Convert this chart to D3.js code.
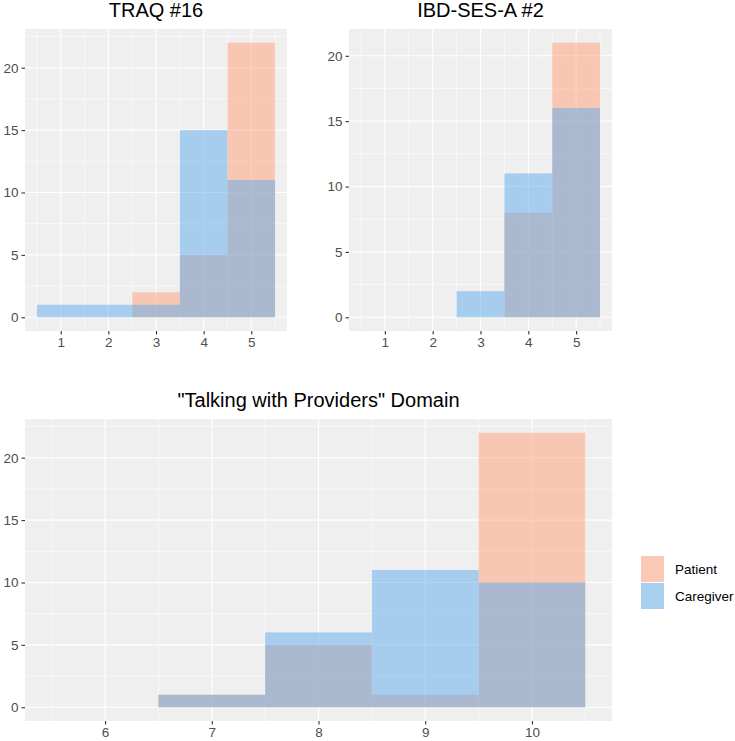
<!DOCTYPE html>
<html>
<head>
<meta charset="utf-8">
<script src="https://cdn.jsdelivr.net/npm/d3@7"></script>
<style>
  body { margin: 0; background: #fff; }
  svg text { font-family: 'Liberation Sans', Arial, sans-serif; }
</style>
</head>
<body>
<div id="chart"></div>
<script>
// Counts per response value
const traqBins = [1, 2, 3, 4, 5];
const traqPatient = [0, 0, 2, 5, 22];
const traqCaregiver = [1, 1, 1, 15, 11];

const ibdBins = [1, 2, 3, 4, 5];
const ibdPatient = [0, 0, 0, 8, 21];
const ibdCaregiver = [0, 0, 2, 11, 16];

const domainBins = [6, 7, 8, 9, 10];
const domainPatient = [0, 1, 5, 1, 22];
const domainCaregiver = [0, 1, 6, 11, 10];

const groups = ['Patient', 'Caregiver'];
const yTicks = [0, 5, 10, 15, 20];

const width = 735;
const height = 741;

const colors = {
  Patient: '#FF9F78',
  Caregiver: '#5EAAEE',
};
const fillAlpha = 0.5;
const panelBg = '#EFEFEF';
const axisText = '#4D4D4D';

const svg = d3.select('#chart').append('svg')
  .attr('width', width)
  .attr('height', height);

function drawPanel(box, title, bins, patient, caregiver) {
  const maxCount = d3.max(patient.concat(caregiver));
  const yPad = maxCount * 0.05;
  const x = d3.scaleLinear()
    .domain([d3.min(bins) - 0.75, d3.max(bins) + 0.75])
    .range([box.left, box.right]);
  const y = d3.scaleLinear()
    .domain([-yPad, maxCount + yPad])
    .range([box.bottom, box.top]);

  const g = svg.append('g');

  // Panel background
  g.append('rect')
    .attr('x', box.left)
    .attr('y', box.top)
    .attr('width', box.right - box.left)
    .attr('height', box.bottom - box.top)
    .attr('fill', panelBg);

  // Minor grid lines (halfway between the major ones)
  const xMinor = bins.map(b => b - 0.5).concat([d3.max(bins) + 0.5]);
  const yMinor = d3.range(2.5, maxCount + yPad, 5);
  g.selectAll('.x-minor').data(xMinor).join('line')
    .attr('x1', d => x(d)).attr('x2', d => x(d))
    .attr('y1', box.top).attr('y2', box.bottom)
    .attr('stroke', '#fff').attr('stroke-width', 0.6);
  g.selectAll('.y-minor').data(yMinor).join('line')
    .attr('x1', box.left).attr('x2', box.right)
    .attr('y1', d => y(d)).attr('y2', d => y(d))
    .attr('stroke', '#fff').attr('stroke-width', 0.6);

  // Major grid lines
  g.selectAll('.x-major').data(bins).join('line')
    .attr('x1', d => x(d)).attr('x2', d => x(d))
    .attr('y1', box.top).attr('y2', box.bottom)
    .attr('stroke', '#fff').attr('stroke-width', 1.1);
  g.selectAll('.y-major').data(yTicks).join('line')
    .attr('x1', box.left).attr('x2', box.right)
    .attr('y1', d => y(d)).attr('y2', d => y(d))
    .attr('stroke', '#fff').attr('stroke-width', 1.1);

  // Bars: patient first, caregiver laid over it
  const series = [
    { name: 'Patient', values: patient },
    { name: 'Caregiver', values: caregiver },
  ];
  series.forEach(s => {
    g.append('g').selectAll('rect')
      .data(bins.map((b, i) => ({ bin: b, count: s.values[i] })).filter(d => d.count > 0))
      .join('rect')
      .attr('x', d => x(d.bin - 0.5))
      .attr('width', d => x(d.bin + 0.5) - x(d.bin - 0.5))
      .attr('y', d => y(d.count))
      .attr('height', d => y(0) - y(d.count))
      .attr('fill', colors[s.name])
      .attr('fill-opacity', fillAlpha);
  });

  // Axes
  const xAxis = d3.axisBottom(x).tickValues(bins).tickFormat(d3.format('d'))
    .tickSize(3.5).tickPadding(3);
  const yAxis = d3.axisLeft(y).tickValues(yTicks).tickFormat(d3.format('d'))
    .tickSize(3.5).tickPadding(3);

  const xg = g.append('g')
    .attr('transform', `translate(0,${box.bottom})`)
    .call(xAxis);
  const yg = g.append('g')
    .attr('transform', `translate(${box.left},0)`)
    .call(yAxis);

  [xg, yg].forEach(ax => {
    ax.select('.domain').remove();
    ax.selectAll('line').attr('stroke', '#333').attr('stroke-width', 1.1);
    ax.selectAll('text')
      .attr('fill', axisText)
      .style('font-size', '13.5px');
  });

  // Title
  svg.append('text')
    .attr('x', (box.left + box.right) / 2)
    .attr('y', box.top - 12)
    .attr('text-anchor', 'middle')
    .style('font-size', '20px')
    .attr('fill', '#000')
    .text(title);
}

drawPanel({ left: 25, right: 287, top: 29, bottom: 331 }, 'TRAQ #16',
  traqBins, traqPatient, traqCaregiver);
drawPanel({ left: 349, right: 612, top: 29, bottom: 331 }, 'IBD-SES-A #2',
  ibdBins, ibdPatient, ibdCaregiver);
drawPanel({ left: 25, right: 612, top: 419, bottom: 721 }, '"Talking with Providers" Domain',
  domainBins, domainPatient, domainCaregiver);

// Legend
const legend = svg.append('g')
  .attr('transform', 'translate(641,556)');
const keySize = 26;

groups.forEach((name, i) => {
  const row = legend.append('g')
    .attr('transform', `translate(0,${i * (keySize + 1)})`);
  row.append('rect')
    .attr('width', 23)
    .attr('height', keySize)
    .attr('fill', '#F2F2F2');
  row.append('rect')
    .attr('width', 23)
    .attr('height', keySize)
    .attr('fill', colors[name])
    .attr('fill-opacity', fillAlpha);
  row.append('text')
    .attr('x', 34)
    .attr('y', keySize / 2)
    .attr('dy', '0.35em')
    .style('font-size', '13.5px')
    .attr('fill', '#000')
    .text(name);
});
</script>
</body>
</html>
